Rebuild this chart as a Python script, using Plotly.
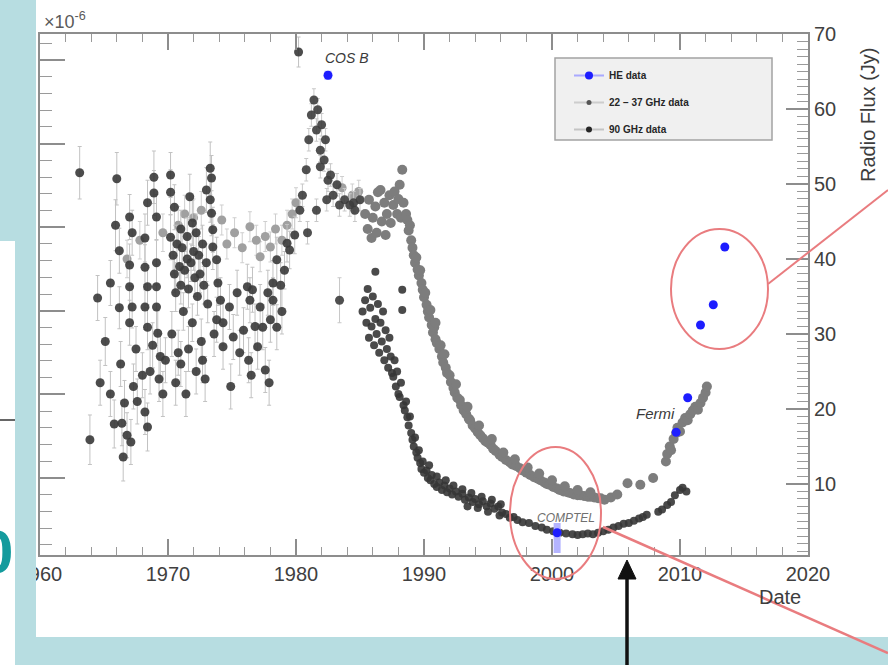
import plotly.graph_objects as go

W, H = 888, 665

# ---------------- data ----------------
# High-energy (gamma-ray) points: COS B, COMPTEL, Fermi
he_year = [1982.5, 2000.4, 2009.7, 2010.6, 2011.6, 2012.6, 2013.5]
he_flux = [64.5, 3.5, 16.9, 21.5, 31.2, 33.9, 41.6]
he_err_hi = [0.6, 1.3, 0.0, 0.0, 0.0, 0.0, 0.0]
he_err_lo = [0.6, 2.7, 0.0, 0.0, 0.0, 0.0, 0.0]

# Early single-dish measurements (1963-1980), with error bars
early_year = [
    1963.1, 1963.9, 1964.5, 1964.7, 1965.1, 1965.5, 1965.5, 1965.8, 1965.9, 1966.0,
    1966.2, 1966.2, 1966.3, 1966.4, 1966.5, 1966.6, 1966.8, 1967.0, 1967.0, 1967.0,
    1967.0, 1967.1, 1967.2, 1967.2, 1967.3, 1967.5, 1967.6, 1968.0, 1968.2, 1968.2,
    1968.2, 1968.2, 1968.4, 1968.4, 1968.4, 1968.4, 1968.6, 1968.8, 1968.9, 1968.9,
    1969.1, 1969.1, 1969.1, 1969.1, 1969.2, 1969.3, 1969.4, 1969.6, 1969.8, 1970.2,
    1970.2, 1970.2, 1970.3, 1970.4, 1970.5, 1970.5, 1970.6, 1970.6, 1970.7, 1970.8,
    1970.9, 1971.0, 1971.0, 1971.0, 1971.1, 1971.2, 1971.3, 1971.4, 1971.5, 1971.5,
    1971.6, 1971.6, 1971.7, 1971.8, 1971.9, 1971.9, 1972.0, 1972.1, 1972.2, 1972.2,
    1972.3, 1972.4, 1972.5, 1972.6, 1972.7, 1972.7, 1972.8, 1972.9, 1973.0, 1973.0,
    1973.1, 1973.3, 1973.3, 1973.4, 1973.4, 1973.5, 1973.5, 1973.6, 1973.8, 1973.8,
    1973.9, 1974.1, 1974.3, 1974.3, 1974.8, 1974.9, 1975.1, 1975.4, 1975.6, 1975.9,
    1976.2, 1976.3, 1976.5, 1976.4, 1976.6, 1976.8, 1977.0, 1977.2, 1977.4, 1977.6,
    1977.8, 1977.9, 1978.0, 1978.2, 1978.2, 1978.5, 1978.5, 1978.8, 1978.9, 1979.1,
    1979.3, 1979.5, 1979.9, 1980.2,
]
early_flux = [
    51.5, 15.9, 34.8, 23.5, 29.0, 36.8, 22.0, 18.0, 44.5, 50.7,
    41.1, 33.5, 26.0, 18.1, 13.6, 20.8, 16.5, 45.6, 39.2, 36.3,
    31.5, 15.6, 43.5, 33.6, 23.0, 28.0, 21.0, 24.5, 42.8, 38.9,
    33.6, 19.6, 47.5, 36.3, 30.9, 17.6, 25.0, 28.5, 50.9, 48.8,
    45.6, 39.5, 36.3, 33.6, 30.1, 24.0, 27.0, 22.0, 26.5, 51.2,
    48.9, 42.9, 30.0, 40.5, 46.9, 38.0, 35.5, 23.5, 42.0, 27.5,
    39.0, 36.5, 44.0, 26.0, 41.5, 33.0, 38.5, 22.0, 40.0, 43.0,
    36.0, 28.0, 48.3, 39.5, 44.8, 31.5, 41.0, 37.5, 43.5, 25.0,
    35.0, 40.5, 38.0, 29.0, 26.5, 42.0, 36.5, 24.0, 49.2, 39.5,
    34.0, 52.1, 47.9, 50.8, 46.1, 43.9, 41.6, 30.0, 39.9, 31.9,
    36.8, 34.5, 31.5, 28.3, 33.6, 23.0, 29.6, 35.5, 27.5, 30.5,
    36.3, 26.5, 24.5, 34.5, 35.9, 31.0, 28.3, 33.6, 30.9, 25.2,
    35.5, 23.5, 31.9, 34.5, 36.8, 30.9, 39.9, 36.5, 33.0, 38.5,
    42.1, 41.2, 43.2, 67.6,
]
early_err = [
    3.5, 3.3, 3.0, 3.0, 3.2, 3.0, 3.0, 3.2, 3.4, 3.5,
    3.0, 2.8, 3.0, 3.0, 3.2, 3.0, 3.0, 3.0, 2.8, 3.0,
    3.0, 3.0, 3.0, 2.8, 3.0, 3.0, 3.0, 3.0, 3.2, 3.0,
    3.0, 3.0, 3.0, 2.8, 3.0, 3.2, 3.0, 3.0, 3.5, 3.0,
    3.0, 3.0, 3.0, 3.0, 3.0, 3.0, 3.0, 3.0, 3.0, 3.0,
    3.0, 3.0, 3.0, 2.5, 3.0, 2.5, 2.5, 3.0, 2.5, 3.0,
    2.5, 2.5, 2.5, 3.0, 2.5, 2.5, 2.5, 3.0, 2.5, 2.5,
    2.5, 3.0, 3.0, 2.5, 3.0, 2.5, 2.5, 2.5, 2.5, 3.0,
    2.5, 2.5, 2.5, 3.0, 3.0, 2.5, 2.5, 3.0, 3.0, 2.5,
    2.5, 3.5, 3.0, 3.0, 3.0, 3.0, 3.0, 3.0, 3.0, 3.0,
    3.0, 3.0, 3.0, 3.0, 3.0, 3.0, 3.0, 3.0, 3.0, 3.0,
    3.0, 3.0, 3.0, 3.0, 3.0, 3.0, 3.0, 3.0, 3.0, 3.0,
    3.0, 3.0, 3.0, 3.0, 3.0, 3.0, 3.0, 3.0, 3.0, 2.5,
    2.5, 2.5, 2.5, 2.0,
]

# Lighter early points (1966-1985)
early_light_year = [1966.8, 1967.8, 1969.6, 1970.8, 1971.3, 1972.0, 1972.6, 1974.2,
                    1974.6, 1975.2, 1975.8, 1976.4, 1976.9, 1977.2, 1977.6, 1978.0,
                    1978.4, 1978.9, 1979.3, 1979.7, 1980.0, 1983.6, 1984.4, 1984.9]
early_light_flux = [40.0, 42.5, 43.5, 44.5, 46.0, 45.5, 46.5, 45.2,
                    42.0, 43.5, 41.5, 44.3, 42.5, 40.3, 43.0, 41.6,
                    44.0, 42.5, 44.5, 46.0, 47.5, 49.5, 48.5, 49.0]
early_light_err = [2.5, 2.5, 2.5, 2.5, 2.5, 2.5, 2.5, 2.0,
                   2.0, 2.0, 2.0, 2.0, 2.0, 2.0, 2.0, 2.0,
                   2.0, 2.0, 2.0, 2.0, 2.0, 1.5, 1.5, 1.5]

# 1980-1985 outburst
peak_year = [1980.3, 1980.5, 1980.8, 1980.9, 1981.0, 1981.2, 1981.4, 1981.6, 1981.6,
             1981.7, 1981.9, 1981.9, 1982.0, 1982.2, 1982.3, 1982.4, 1982.5, 1982.7,
             1982.9, 1983.2, 1983.4, 1983.4, 1983.8, 1984.2, 1984.5, 1984.6, 1985.0]
peak_flux = [46.5, 48.5, 51.9, 43.5, 55.9, 59.2, 61.2, 57.2, 46.5,
             59.9, 54.5, 52.3, 57.9, 53.2, 55.9, 47.9, 50.5, 51.2,
             48.5, 49.9, 47.2, 34.5, 47.9, 47.2, 47.5, 46.5, 47.9]
peak_err = [1.5, 1.5, 1.5, 1.5, 1.5, 1.5, 1.5, 1.5, 1.5,
            1.5, 1.5, 1.5, 1.5, 1.5, 1.5, 1.5, 1.5, 1.5,
            1.5, 1.5, 1.5, 3.0, 1.5, 1.5, 1.5, 1.5, 1.5]

# 22 - 37 GHz monitoring (1985-2012)
k_year = [
    1985.4, 1985.6, 1985.7, 1985.9, 1986.0, 1986.2, 1986.3, 1986.4, 1986.6, 1986.7,
    1986.9, 1987.0, 1987.1, 1987.3, 1987.4, 1987.6, 1987.7, 1987.9, 1988.0, 1988.1,
    1988.2, 1988.3, 1988.4, 1988.6, 1988.7, 1988.8, 1988.9, 1989.0, 1989.1, 1989.2,
    1989.3, 1989.4, 1989.5, 1989.6, 1989.7, 1989.8, 1989.9, 1990.0, 1990.1, 1990.2,
    1990.3, 1990.4, 1990.5, 1990.6, 1990.7, 1990.8, 1990.9, 1991.0, 1991.2, 1991.3,
    1991.4, 1991.5, 1991.7, 1991.8, 1992.0, 1992.1, 1992.3, 1992.4, 1992.6, 1992.8,
    1992.9, 1993.1, 1993.3, 1993.5, 1993.6, 1993.8, 1994.0, 1994.2, 1994.4, 1994.6,
    1994.8, 1995.0, 1995.2, 1995.4, 1995.6, 1995.9, 1996.1, 1996.4, 1996.7, 1996.9,
    1997.2, 1997.5, 1997.7, 1998.0, 1998.3, 1998.6, 1998.9, 1999.1, 1999.4, 1999.6,
    1999.8, 2000.1, 2000.4, 2000.6, 2000.9, 2001.2, 2001.4, 2001.7, 2002.0, 2002.2,
    2002.5, 2002.8, 2003.0, 2003.3, 2003.6, 2003.8, 2004.1,
    1990.9, 1991.6, 1992.5, 1993.4, 1994.3, 1995.3, 1996.2, 1997.1, 1998.1, 1999.0,
    2000.0, 2001.0, 2002.0, 2003.0,
    2004.6, 2005.1, 2005.9, 2006.9, 2007.9,
    2008.9, 2009.0, 2009.2, 2009.3, 2009.5, 2009.7, 2009.8, 2010.0, 2010.2, 2010.4,
    2010.6, 2010.8, 2011.0, 2011.2, 2011.4, 2011.6, 2011.8, 2012.0, 2012.1,
]
k_flux = [
    46.0, 44.0, 47.9, 42.8, 45.5, 47.0, 43.5, 48.9, 49.2, 45.0,
    47.5, 43.2, 46.0, 48.5, 44.8, 47.2, 49.0, 46.0, 48.0, 49.9,
    45.5, 51.9, 47.5, 46.0, 45.2, 43.8, 44.5, 42.5, 41.5, 40.5,
    39.5, 40.2, 38.6, 37.8, 38.5, 36.8, 35.9, 34.9, 35.5, 33.9,
    33.0, 32.2, 33.2, 31.2, 30.2, 30.9, 29.3, 28.8, 28.0, 28.5,
    27.0, 26.2, 25.5, 24.8, 24.5, 23.6, 22.8, 22.2, 21.5, 21.2,
    20.5, 19.8, 19.3, 18.7, 18.5, 17.8, 17.4, 16.9, 16.5, 16.1,
    15.7, 15.5, 15.2, 14.7, 14.4, 13.9, 13.6, 13.2, 12.9, 12.6,
    12.4, 12.1, 11.8, 11.5, 11.2, 10.9, 10.7, 10.5, 10.2, 10.0,
    9.9, 9.6, 9.4, 9.2, 9.0, 8.9, 8.8, 8.6, 8.5, 8.5,
    8.4, 8.3, 8.3, 8.2, 8.1, 8.1, 7.9,
    31.5, 27.3, 23.3, 20.3, 17.8, 16.0, 14.2, 13.3, 12.2, 11.4,
    10.5, 9.7, 9.2, 8.9,
    8.2, 8.6, 10.1, 9.9, 10.8,
    13.0, 14.0, 15.0, 14.5, 16.0, 16.8, 17.5, 17.0, 18.2, 18.8,
    18.5, 19.3, 19.8, 20.3, 19.9, 20.8, 21.5, 22.2, 23.0,
]

# 90 GHz monitoring (1985-2011)
w_year = [
    1985.2, 1985.4, 1985.5, 1985.6, 1985.7, 1985.8, 1985.9, 1986.0, 1986.1, 1986.2,
    1986.2, 1986.3, 1986.4, 1986.5, 1986.6, 1986.7, 1986.8, 1986.9, 1987.0, 1987.1,
    1987.2, 1987.3, 1987.4, 1987.5, 1987.6, 1987.7, 1987.8, 1987.9, 1988.0, 1988.1,
    1988.2, 1988.3, 1988.3, 1988.4, 1988.5, 1988.6, 1988.7, 1988.8, 1988.9, 1989.0,
    1989.1, 1989.2, 1989.3, 1989.4, 1989.5, 1989.6, 1989.7, 1989.8, 1989.9, 1990.0,
    1990.2, 1990.3, 1990.4, 1990.5, 1990.6, 1990.8, 1991.0, 1991.0, 1991.2, 1991.4,
    1991.6, 1991.7, 1991.8, 1992.0, 1992.2, 1992.3, 1992.5, 1992.7, 1993.0, 1993.0,
    1993.2, 1993.4, 1993.5, 1993.7, 1993.8, 1994.0, 1994.2, 1994.3, 1994.5, 1994.6,
    1994.9, 1995.0, 1995.2, 1995.3, 1995.5, 1995.8, 1995.9, 1996.0, 1996.1, 1996.4,
    1996.7, 1997.0, 1997.3, 1997.7, 1998.2, 1998.7, 1999.2, 1999.6, 2000.1, 2000.6,
    2001.1, 2001.6, 2002.0, 2002.4, 2002.8, 2003.2, 2003.6, 2004.0, 2004.4, 2004.8,
    2005.2, 2005.6, 2006.0, 2006.4, 2006.8, 2007.1, 2007.4, 2008.3, 2008.6, 2009.0,
    2009.3, 2009.6, 2010.0, 2010.2, 2010.5,
]
w_flux = [
    33.0, 34.5, 31.5, 36.0, 29.5, 33.5, 31.0, 35.0, 28.5, 38.3,
    32.0, 30.0, 34.0, 27.5, 31.5, 29.0, 33.0, 26.5, 30.5, 28.0,
    25.5, 29.5, 27.0, 24.8, 24.3, 26.5, 23.0, 25.0, 22.0, 21.6,
    23.5, 35.9, 33.2, 20.5, 19.8, 21.0, 18.9, 17.8, 19.0, 16.8,
    15.9, 15.0, 16.2, 14.2, 13.5, 14.5, 12.8, 12.0, 13.0, 11.5,
    11.8, 10.8, 12.5, 10.5, 11.2, 10.0, 9.6, 11.0, 10.2, 9.2,
    9.8, 10.5, 8.9, 9.4, 8.6, 9.8, 9.0, 8.3, 8.7, 9.3,
    7.9, 7.0, 8.2, 8.8, 7.6, 8.0, 6.8, 7.3, 8.3, 7.7,
    7.0, 6.3, 7.4, 7.9, 6.7, 7.0, 5.8, 7.3, 6.2, 6.0,
    5.5, 5.6, 5.2, 4.9, 4.8, 4.4, 4.2, 3.9, 3.7, 3.5,
    3.4, 3.3, 3.2, 3.3, 3.4, 3.3, 3.5, 3.7, 3.9, 4.2,
    4.4, 4.7, 4.8, 5.1, 5.4, 5.6, 5.9, 6.3, 6.6, 7.2,
    7.6, 8.5, 9.2, 9.5, 9.0,
]

# ---------------- helpers for page-level decoration ----------------
def fx(p):
    return p / W


def fy(p):
    return 1 - p / H


TEAL = "#b7dde1"
RED = "#e97c7f"
FONT = "Liberation Sans"

fig = go.Figure()

fig.add_trace(go.Scatter(
    x=early_light_year, y=early_light_flux, mode="markers",
    marker=dict(size=9, color="#a0a0a0"),
    error_y=dict(type="data", array=early_light_err, color="#cfcfcf", thickness=1, width=2),
    showlegend=False, hoverinfo="skip"))

fig.add_trace(go.Scatter(
    x=early_year, y=early_flux, mode="markers",
    marker=dict(size=9, color="#383838", opacity=0.9),
    error_y=dict(type="data", array=early_err, color="#c2c2c2", thickness=1, width=2),
    showlegend=False, hoverinfo="skip"))

fig.add_trace(go.Scatter(
    x=peak_year, y=peak_flux, mode="markers",
    marker=dict(size=9, color="#3d3d3d", opacity=0.9),
    error_y=dict(type="data", array=peak_err, color="#c8c8c8", thickness=1, width=2),
    showlegend=False, hoverinfo="skip"))

fig.add_trace(go.Scatter(
    x=k_year, y=k_flux, mode="markers",
    marker=dict(size=10, color="#7d7d7d"),
    showlegend=False, hoverinfo="skip"))

fig.add_trace(go.Scatter(
    x=w_year, y=w_flux, mode="markers",
    marker=dict(size=8, color="#363636", opacity=0.9),
    showlegend=False, hoverinfo="skip"))

fig.add_trace(go.Scatter(
    x=he_year, y=he_flux, mode="markers",
    marker=dict(size=9, color="#1d1dff"),
    error_y=dict(type="data", symmetric=False, array=he_err_hi, arrayminus=he_err_lo,
                 color="#b4b4ff", thickness=7, width=0),
    showlegend=False, hoverinfo="skip"))

# legend entries
fig.add_trace(go.Scatter(
    x=[None], y=[None], mode="lines+markers", name="HE data", legendgroup="he",
    line=dict(color="#a9a9ff", width=2), marker=dict(color="#1d1dff", size=8)))
fig.add_trace(go.Scatter(
    x=[None], y=[None], mode="lines+markers", name="22 \u2212 37 GHz data", legendgroup="k",
    line=dict(color="#cdcdcd", width=2), marker=dict(color="#555555", size=5)))
fig.add_trace(go.Scatter(
    x=[None], y=[None], mode="lines+markers", name="90 GHz data", legendgroup="w",
    line=dict(color="#c4c4c4", width=2), marker=dict(color="#262626", size=6),
    yaxis="y2"))

axis_common = dict(
    showgrid=False, zeroline=False, showline=True, linecolor="#8d8d8d", linewidth=2,
    ticks="inside", tickcolor="#8d8d8d", tickwidth=1.5, automargin=False,
    tickfont=dict(family=FONT, size=20, color="#404040"),
)

fig.update_layout(
    width=W, height=H,
    margin=dict(l=0, r=0, t=0, b=0, pad=0, autoexpand=False),
    paper_bgcolor=TEAL,
    plot_bgcolor="rgba(0,0,0,0)",
    xaxis=dict(
        domain=[fx(40), fx(808)], range=[1960, 2020], tick0=1960, dtick=10,
        ticklen=16, mirror="ticks",
        minor=dict(dtick=2, ticks="inside", ticklen=8, tickcolor="#9a9a9a", tickwidth=1.2),
        **axis_common),
    yaxis=dict(
        domain=[fy(555), fy(34)], range=[0.53, 70], tick0=0, dtick=10, side="right",
        anchor="x", ticklen=22,
        minor=dict(dtick=1, ticks="inside", ticklen=11, tickcolor="#9a9a9a", tickwidth=1.2),
        **axis_common),
    yaxis2=dict(
        overlaying="y", side="left", anchor="x", range=[0.08, 6.31], tick0=0, dtick=1,
        ticklen=25, showticklabels=False,
        minor=dict(dtick=0.2, ticks="inside", ticklen=12, tickcolor="#9a9a9a", tickwidth=1.2),
        **axis_common),
    legend=dict(
        x=fx(569), y=fy(61), xanchor="left", yanchor="top",
        bgcolor="rgba(0,0,0,0)", borderwidth=0, tracegroupgap=8,
        font=dict(family=FONT, size=10, color="#262626", weight="bold")),
    showlegend=True,
)

shapes = [
    # white slide panel behind the plot
    dict(type="rect", xref="paper", yref="paper", x0=fx(36), x1=1, y0=fy(637), y1=1,
         fillcolor="white", line=dict(width=0), layer="below"),
    # legend frame
    dict(type="rect", xref="paper", yref="paper", x0=fx(555), x1=fx(772), y0=fy(140), y1=fy(58),
         fillcolor="#f0f0f0", line=dict(color="#a3a3a3", width=1.5), layer="below"),
    # slide borders
    dict(type="rect", xref="paper", yref="paper", x0=0, x1=fx(36), y0=fy(241), y1=1,
         fillcolor=TEAL, line=dict(width=0), layer="above"),
    dict(type="rect", xref="paper", yref="paper", x0=fx(15), x1=fx(36), y0=0, y1=fy(241),
         fillcolor=TEAL, line=dict(width=0), layer="above"),
    dict(type="rect", xref="paper", yref="paper", x0=0, x1=fx(15), y0=0, y1=fy(241),
         fillcolor="white", line=dict(width=0), layer="above"),
    dict(type="rect", xref="paper", yref="paper", x0=fx(15), x1=1, y0=0, y1=fy(637),
         fillcolor=TEAL, line=dict(width=0), layer="above"),
    dict(type="line", xref="paper", yref="paper", x0=0, x1=fx(15), y0=fy(420), y1=fy(420),
         line=dict(color="#333333", width=1.5), layer="above"),
    # red highlight ellipses and pointer lines
    dict(type="circle", xref="paper", yref="paper", x0=fx(510), x1=fx(601), y0=fy(579), y1=fy(447),
         line=dict(color=RED, width=2), layer="above"),
    dict(type="line", xref="paper", yref="paper", x0=fx(603), x1=fx(888), y0=fy(527), y1=fy(653),
         line=dict(color=RED, width=2.5), layer="above"),
    dict(type="circle", xref="paper", yref="paper", x0=fx(671), x1=fx(768), y0=fy(349), y1=fy(229),
         line=dict(color=RED, width=2), layer="above"),
    dict(type="line", xref="paper", yref="paper", x0=fx(768), x1=fx(888), y0=fy(284), y1=fy(190),
         line=dict(color=RED, width=2), layer="above"),
    # black arrow
    dict(type="line", xref="paper", yref="paper", x0=fx(627), x1=fx(627), y0=fy(577), y1=0,
         line=dict(color="#111111", width=3.5), layer="above"),
    dict(type="path", xref="paper", yref="paper",
         path=f"M {fx(618)} {fy(579)} L {fx(636)} {fy(579)} L {fx(627)} {fy(560)} Z",
         fillcolor="#111111", line=dict(color="#111111", width=1), layer="above"),
]
fig.update_layout(shapes=shapes)

annotations = [
    dict(text="\u00d710<sup>-6</sup>", x=fx(42), y=fy(21), xanchor="left", yanchor="middle",
         font=dict(family=FONT, size=18, color="#5a5a5a")),
    dict(text="<i>COS B</i>", x=fx(347), y=fy(58), font=dict(family=FONT, size=14, color="#3a3a3a")),
    dict(text="<i>Fermi</i>", x=fx(655), y=fy(413), font=dict(family=FONT, size=15, color="#3a3a3a")),
    dict(text="<i>COMPTEL</i>", x=fx(566), y=fy(518), font=dict(family=FONT, size=12, color="#707070")),
    dict(text="Date", x=fx(780), y=fy(597), font=dict(family=FONT, size=20, color="#3d3d3d")),
    dict(text="Radio Flux (Jy)", x=fx(868), y=fy(115), textangle=-90,
         font=dict(family=FONT, size=20, color="#3d3d3d")),
    dict(text="<b>0</b>", x=fx(-4), y=fy(551), font=dict(family=FONT, size=62, color="#149b9d")),
]
for a in annotations:
    a.update(xref="paper", yref="paper", showarrow=False)
    a.setdefault("xanchor", "center")
    a.setdefault("yanchor", "middle")
fig.update_layout(annotations=annotations)

fig.write_html("out.html")
